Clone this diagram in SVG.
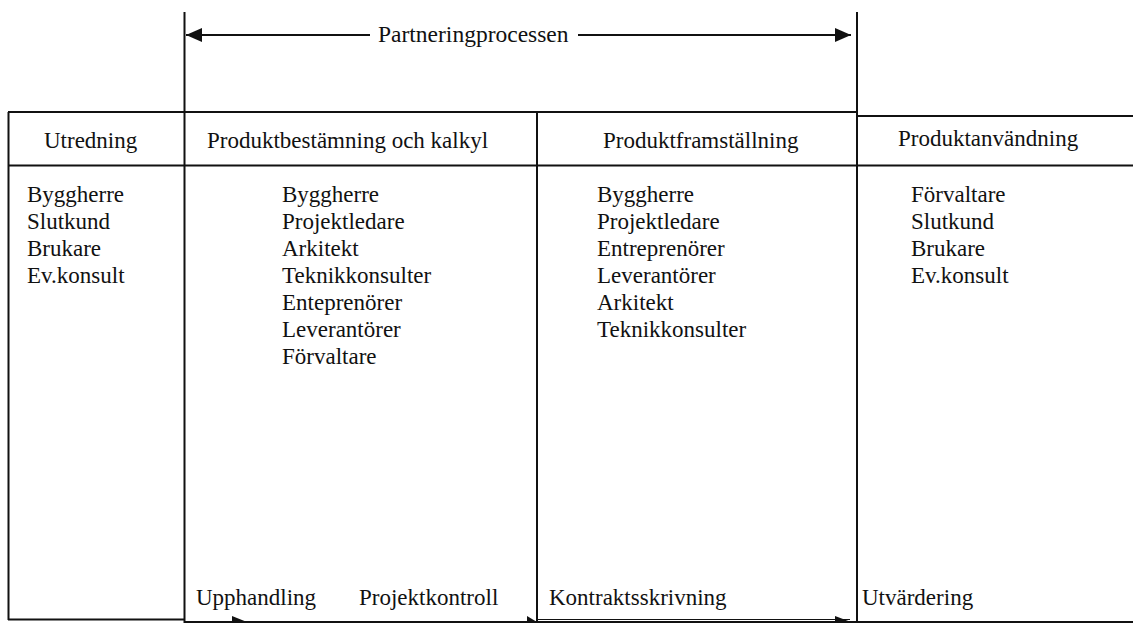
<svg xmlns="http://www.w3.org/2000/svg" width="1133" height="624" viewBox="0 0 1133 624">
<style>
text{font-family:'Liberation Serif','Times New Roman','DejaVu Serif',serif;font-size:23px;fill:#111}
.ln{stroke:#111;stroke-width:2;fill:none}
.ah{fill:#111;stroke:none}
</style>
<defs>
<marker id="arr" viewBox="0 0 16 14" refX="16" refY="7" markerWidth="16" markerHeight="14" markerUnits="userSpaceOnUse" orient="auto-start-reverse">
<path d="M0,0 L16,7 L0,14 Z" class="ah"/>
</marker>
</defs>
<rect width="1133" height="624" fill="#fff"/>
<g id="frame">
<line class="ln" x1="184.5" y1="12" x2="184.5" y2="623"/>
<line class="ln" x1="857" y1="12" x2="857" y2="623"/>
<line class="ln" x1="537" y1="112" x2="537" y2="623"/>
<line class="ln" x1="8.5" y1="112" x2="8.5" y2="620"/>
<line class="ln" x1="8" y1="619.5" x2="184.5" y2="619.5"/>
<line class="ln" x1="8" y1="112" x2="857" y2="112"/>
<line class="ln" x1="857" y1="116" x2="1133" y2="116"/>
<line class="ln" x1="8" y1="165.5" x2="1133" y2="165.5"/>
<line class="ln" x1="184" y1="622" x2="1133" y2="622"/>
<line class="ln" x1="537" y1="619.5" x2="850" y2="619.5" style="stroke-width:1.2"/>
</g>
<g id="connectors">
<line class="ln" x1="186" y1="35" x2="370" y2="35" marker-start="url(#arr)"/>
<line class="ln" x1="578" y1="35" x2="851" y2="35" marker-end="url(#arr)"/>
<polygon class="ah" points="232,616 232,622 247,622"/>
<polygon class="ah" points="527,616 527,622 537,622"/>
<polygon class="ah" points="835,616 835,622 851,622"/>
</g>
<g id="title"><text x="378" y="42" style="font-size:23.5px">Partneringprocessen</text></g>
<g id="utredning">
<text x="44" y="148">Utredning</text>
<text x="27" y="202">Byggherre</text>
<text x="27" y="229">Slutkund</text>
<text x="27" y="256">Brukare</text>
<text x="27" y="283">Ev.konsult</text>
</g>
<g id="produktbestamning">
<text x="207" y="148">Produktbestämning och kalkyl</text>
<text x="282" y="202">Byggherre</text>
<text x="282" y="229">Projektledare</text>
<text x="282" y="256">Arkitekt</text>
<text x="282" y="283">Teknikkonsulter</text>
<text x="282" y="310">Enteprenörer</text>
<text x="282" y="337">Leverantörer</text>
<text x="282" y="364">Förvaltare</text>
<text x="196" y="605">Upphandling</text>
<text x="359" y="605">Projektkontroll</text>
</g>
<g id="produktframstallning">
<text x="603" y="148">Produktframställning</text>
<text x="597" y="202">Byggherre</text>
<text x="597" y="229">Projektledare</text>
<text x="597" y="256">Entreprenörer</text>
<text x="597" y="283">Leverantörer</text>
<text x="597" y="310">Arkitekt</text>
<text x="597" y="337">Teknikkonsulter</text>
<text x="549" y="605">Kontraktsskrivning</text>
</g>
<g id="produktanvandning">
<text x="898" y="146">Produktanvändning</text>
<text x="911" y="202">Förvaltare</text>
<text x="911" y="229">Slutkund</text>
<text x="911" y="256">Brukare</text>
<text x="911" y="283">Ev.konsult</text>
<text x="862" y="605">Utvärdering</text>
</g>
</svg>
